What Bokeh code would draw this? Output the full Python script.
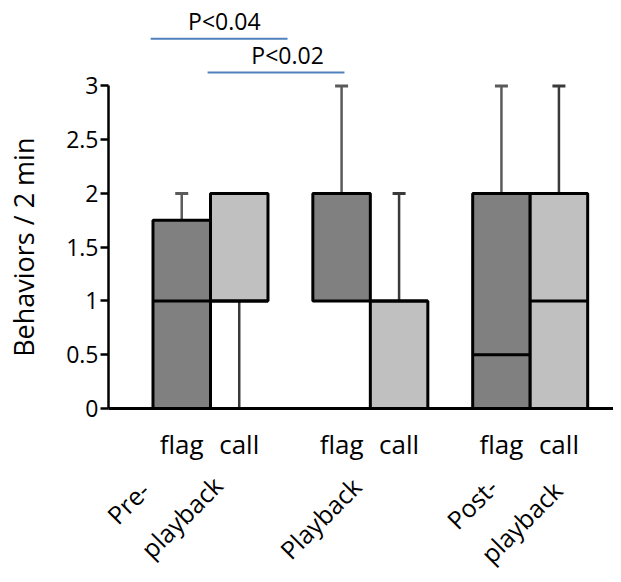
import math
from bokeh.plotting import figure
from bokeh.models import Range1d, FixedTicker, CustomJSTickFormatter, ColumnDataSource
from bokeh.core.properties import value
from bokeh.embed import file_html
from bokeh.resources import INLINE

# ---------------- data ----------------
phases = ["Pre-\nplayback", "Playback", "Post-\nplayback"]
behaviors = ["flag", "call"]

flag_min = [0, 1, 0]
flag_q1 = [0, 1, 0]
flag_median = [1, 2, 0.5]
flag_q3 = [1.75, 2, 2]
flag_max = [2, 3, 3]

call_min = [0, 0, 0]
call_q1 = [1, 0, 0]
call_median = [1, 1, 1]
call_q3 = [2, 1, 2]
call_max = [2, 2, 3]

y_ticks = [0, 0.5, 1, 1.5, 2, 2.5, 3]
y_label = "Behaviors / 2 min"
sig_labels = ["P<0.04", "P<0.02"]

# ---------------- layout / style ----------------
GROUP_STEP = 2.78
BOX_W = 1.0
OFFSET = {"flag": -0.5, "call": 0.5}
FILL = {"flag": "#808080", "call": "#c0c0c0"}
WHISK = {"flag": "#5a5a5a", "call": "#3a3a3a"}
FONT = "Open Sans"
X_AXIS_POS = -1.774          # where the y axis stands (data units)
X_END = 7.009
Y_TOP = 3.795
Y_BOTTOM = -1.545

stats = {
    "flag": (flag_min, flag_q1, flag_median, flag_q3, flag_max),
    "call": (call_min, call_q1, call_median, call_q3, call_max),
}

p = figure(width=613, height=574,
           x_range=Range1d(-3.652, X_END), y_range=Range1d(Y_BOTTOM, Y_TOP),
           output_backend="svg", toolbar_location=None,
           min_border_left=0, min_border_right=0, min_border_top=0,
           min_border_bottom=0)
p.grid.visible = False
p.outline_line_color = None
p.background_fill_color = "white"
p.border_fill_color = "white"

# whiskers, boxes, medians, caps
for b in behaviors:
    mn, q1, md, q3, mx = stats[b]
    xs = [g * GROUP_STEP + OFFSET[b] for g in range(len(phases))]
    up = [(x, a, c) for x, a, c in zip(xs, q3, mx) if c > a]
    p.segment(x0=[u[0] for u in up], y0=[u[1] for u in up],
              x1=[u[0] for u in up], y1=[u[2] for u in up],
              line_color=WHISK[b], line_width=2.5)
    p.scatter(x=[u[0] for u in up], y=[u[2] for u in up], marker="dash",
              size=13, line_color=WHISK[b], line_width=3)
    lo = [(x, a, c) for x, a, c in zip(xs, mn, q1) if c > a]
    p.segment(x0=[u[0] for u in lo], y0=[u[1] for u in lo],
              x1=[u[0] for u in lo], y1=[u[2] for u in lo],
              line_color=WHISK[b], line_width=2.5)
    src = ColumnDataSource(dict(left=[x - BOX_W / 2 for x in xs],
                                right=[x + BOX_W / 2 for x in xs],
                                q1=q1, q3=q3, med=md))
    p.quad(left="left", right="right", bottom="q1", top="q3", source=src,
           fill_color=FILL[b], line_color="black", line_width=3)
    p.segment(x0="left", x1="right", y0="med", y1="med", source=src,
              line_color="black", line_width=3)
    # behaviour labels under the boxes
    p.text(x=xs, y=[-0.33] * len(xs), text=[b] * len(xs), text_align="center",
           text_baseline="alphabetic", text_font=value(FONT),
           text_font_size="26px", text_color="black")

# group labels (rotated 45 deg, one text per line, lines left-aligned)
GROUP_LABEL_POS = [(-1.729, -1.03), (-1.50, -1.355), (-1.38, -1.076)]
LINE_DX, LINE_DY = 0.591, -0.316
gx, gy, gt = [], [], []
for g, name in enumerate(phases):
    ax, ay = GROUP_LABEL_POS[g]
    for k, line in enumerate(name.split("\n")):
        gx.append(g * GROUP_STEP + ax + k * LINE_DX)
        gy.append(ay + k * LINE_DY)
        gt.append(line)
p.text(x=gx, y=gy, text=gt, angle=45, angle_units="deg", text_align="left",
       text_baseline="alphabetic", text_font=value(FONT), text_font_size="25px",
       text_color="black")

# y-axis title
p.text(x=[-3.25], y=[1.5], text=[y_label], angle=90, angle_units="deg",
       text_align="center", text_baseline="alphabetic", text_font=value(FONT),
       text_font_size="27px", text_color="black")

# significance brackets
SIG_LINES = [(-1.04, 1.34, 3.44), (-0.05, 2.33, 3.125)]
SIG_TEXT = [(0.24, 3.60), (1.34, 3.285)]
p.segment(x0=[s[0] for s in SIG_LINES], x1=[s[1] for s in SIG_LINES],
          y0=[s[2] for s in SIG_LINES], y1=[s[2] for s in SIG_LINES],
          line_color="#4f81bd", line_width=2)
p.text(x=[t[0] for t in SIG_TEXT], y=[t[1] for t in SIG_TEXT], text=sig_labels,
       text_align="center", text_baseline="alphabetic",
       text_font=value(FONT), text_font_size="23px", text_color="black")

# axes
ya = p.yaxis[0]
ya.fixed_location = X_AXIS_POS
ya.bounds = (0, 3)
ya.ticker = FixedTicker(ticks=y_ticks)
ya.formatter = CustomJSTickFormatter(code="return String(tick);")
ya.major_tick_out = 8
ya.major_tick_in = 0
ya.minor_tick_line_color = None
ya.major_tick_line_width = 2.5
ya.axis_line_width = 2.5
ya.major_label_text_font = FONT
ya.major_label_text_font_size = "23px"
ya.major_label_text_color = "black"
ya.major_label_standoff = 2

xa = p.xaxis[0]
xa.fixed_location = 0
xa.bounds = (X_AXIS_POS, X_END)
xa.ticker = FixedTicker(ticks=[])
xa.major_label_text_font_size = "0px"
xa.major_tick_line_color = None
xa.minor_tick_line_color = None
xa.axis_line_width = 3

open("out.html", "w").write(file_html(p, INLINE))
